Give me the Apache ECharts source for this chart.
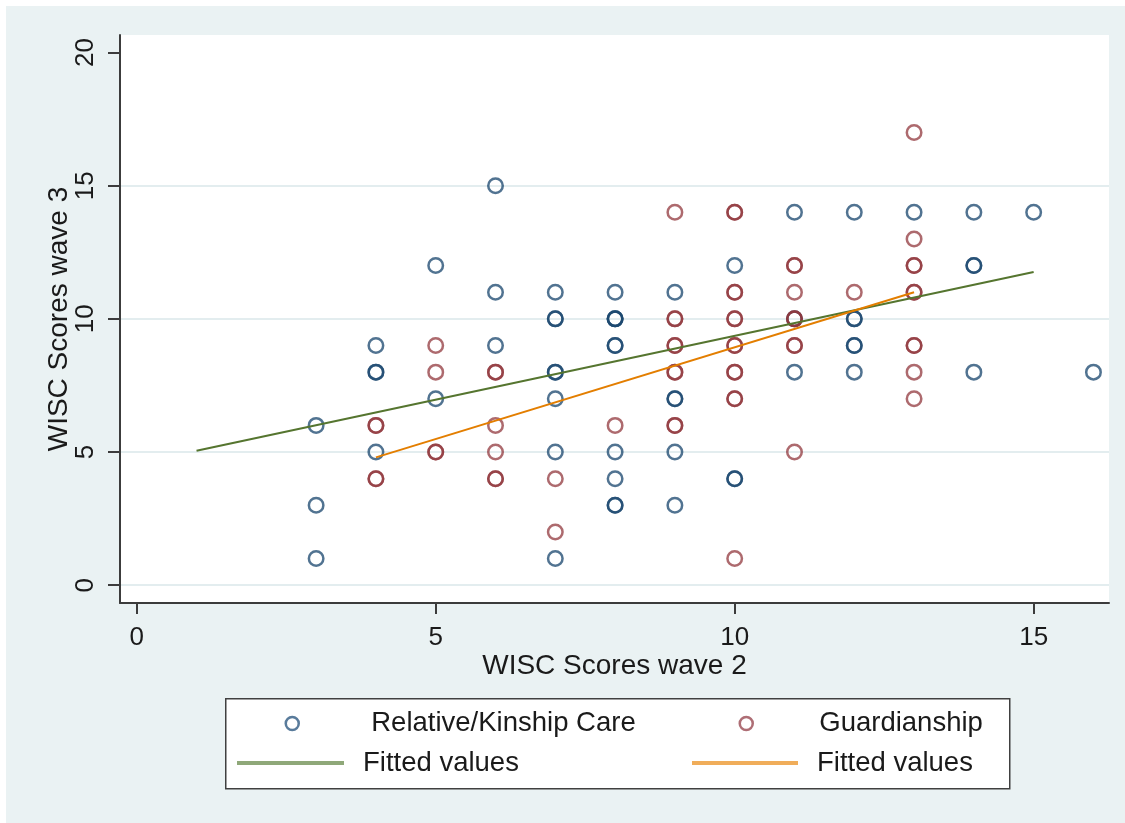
<!DOCTYPE html>
<html>
<head>
<meta charset="utf-8">
<script src="https://cdn.jsdelivr.net/npm/echarts@6/dist/echarts.min.js"></script>
<style>
  html, body { margin: 0; padding: 0; background: #ffffff; }
  #chart { width: 1125px; height: 823px; }
</style>
</head>
<body>
<div id="chart"></div>
<script>
// Axis ticks
const xTicks = [0, 5, 10, 15];
const yTicks = [0, 5, 10, 15, 20];
const yGridLines = [0, 5, 10, 15];

// Relative/Kinship Care: WISC wave 2 (x) vs wave 3 (y); repeated pairs are overlapping observations
const relX = [3, 3, 3,
  4, 4, 4, 4,
  5, 5,
  6, 6, 6,
  7, 7, 7, 7, 7, 7, 7, 7,
  8, 8, 8, 8, 8, 8, 8, 8, 8, 8,
  9, 9, 9, 9, 9,
  10, 10, 10,
  11, 11, 11,
  12, 12, 12, 12, 12, 12,
  13,
  14, 14, 14, 14,
  15,
  16];
const relY = [6, 3, 1,
  9, 8, 8, 5,
  12, 7,
  15, 11, 9,
  11, 10, 10, 8, 8, 7, 5, 1,
  11, 10, 10, 10, 9, 9, 5, 4, 3, 3,
  11, 7, 7, 5, 3,
  12, 4, 4,
  14, 10, 8,
  14, 10, 10, 9, 9, 8,
  14,
  14, 12, 12, 8,
  14,
  8];

// Guardianship
const guaX = [4, 4, 4, 4,
  5, 5, 5, 5,
  6, 6, 6, 6, 6, 6,
  7, 7,
  8,
  9, 9, 9, 9, 9, 9, 9, 9, 9,
  10, 10, 10, 10, 10, 10, 10, 10, 10, 10, 10, 10, 10,
  11, 11, 11, 11, 11, 11, 11, 11,
  12,
  13, 13, 13, 13, 13, 13, 13, 13, 13, 13];
const guaY = [6, 6, 4, 4,
  9, 8, 5, 5,
  8, 8, 6, 5, 4, 4,
  4, 2,
  6,
  14, 10, 10, 9, 9, 8, 8, 6, 6,
  14, 14, 11, 11, 10, 10, 9, 9, 8, 8, 7, 7, 1,
  12, 12, 11, 10, 10, 9, 9, 5,
  11,
  17, 13, 12, 12, 11, 11, 9, 9, 8, 7];

// Linear fits (end points of each fitted line)
const fitRelX = [1, 15];
const fitRelY = [5.05, 11.76];
const fitGuaX = [4, 13];
const fitGuaY = [4.8, 11.0];

const pairs = (xs, ys) => xs.map((x, i) => [x, ys[i]]);

const FONT = 'Liberation Sans, Arial, sans-serif';
const INK = '#1a1a1a';
const AXIS = '#3c3c3c';
const GREEN = '#55752f';
const ORANGE = '#e37e00';

const chart = echarts.init(document.getElementById('chart'), null, { renderer: 'canvas' });

const legendText = (padLeft) => ({
  fontSize: 27.5, color: INK, fontFamily: FONT, padding: [0, 0, 0, padLeft]
});

const option = {
  animation: false,
  backgroundColor: '#eaf2f3',
  textStyle: { fontFamily: FONT },
  graphic: [
    // thin white margin above and left of the tinted frame
    { type: 'rect', left: 0, top: 0, shape: { width: 1125, height: 6 }, style: { fill: '#ffffff' }, silent: true },
    { type: 'rect', left: 0, top: 0, shape: { width: 6, height: 823 }, style: { fill: '#ffffff' }, silent: true },
    // legend frame
    {
      type: 'rect', left: 225, top: 698, z: 1,
      shape: { width: 784, height: 90 },
      style: { fill: '#ffffff', stroke: '#404040', lineWidth: 1.5 },
      silent: true
    }
  ],
  grid: {
    left: 120, top: 35, width: 989, height: 568,
    show: true, backgroundColor: '#ffffff', borderWidth: 0
  },
  xAxis: {
    type: 'value',
    min: -0.28, max: 16.26,
    name: 'WISC Scores wave 2',
    nameLocation: 'middle',
    nameGap: 49,
    nameMoveOverlap: false,
    nameTextStyle: { fontSize: 28, color: INK, fontFamily: FONT },
    axisLine: { show: true, onZero: false, lineStyle: { color: AXIS, width: 2 } },
    axisTick: { show: true, length: 11, customValues: xTicks, lineStyle: { color: AXIS, width: 2 } },
    axisLabel: { customValues: xTicks, fontSize: 26, color: INK, margin: 22, fontFamily: FONT },
    splitLine: { show: false }
  },
  yAxis: [
    {
      type: 'value',
      min: -0.67, max: 20.66,
      name: 'WISC Scores wave 3',
      nameLocation: 'middle',
      nameGap: 47,
      nameMoveOverlap: false,
      nameTextStyle: { fontSize: 28, color: INK, fontFamily: FONT },
      axisLine: { show: true, onZero: false, lineStyle: { color: AXIS, width: 2 } },
      axisTick: { show: true, length: 12, customValues: yTicks, lineStyle: { color: AXIS, width: 2 } },
      axisLabel: { customValues: yTicks, rotate: 90, fontSize: 26, color: INK, margin: 21, fontFamily: FONT },
      splitLine: { show: false }
    },
    {
      // carries the horizontal grid lines only
      type: 'value',
      min: -0.67, max: 20.66,
      position: 'left',
      axisLine: { show: false },
      axisTick: { show: false, customValues: yGridLines },
      axisLabel: { show: false },
      splitLine: { show: true, lineStyle: { color: '#e3edef', width: 2 } }
    }
  ],
  legend: [
    {
      data: [{ name: 'Relative/Kinship Care', icon: 'circle',
               itemStyle: { color: 'rgba(0,0,0,0)', borderColor: '#2f5a82', borderWidth: 2.5 } }],
      left: 284.5, top: 709.5, padding: 0,
      itemWidth: 13, itemHeight: 13,
      selectedMode: false,
      textStyle: legendText(67.5)
    },
    {
      data: [{ name: 'Guardianship', icon: 'circle',
               itemStyle: { color: 'rgba(0,0,0,0)', borderColor: '#9a4a52', borderWidth: 2.5 } }],
      left: 738.5, top: 709.5, padding: 0,
      itemWidth: 13, itemHeight: 13,
      selectedMode: false,
      textStyle: legendText(61.5)
    },
    {
      data: [{ name: 'fitRel', icon: 'rect', itemStyle: { color: '#8fa879' } }],
      formatter: () => 'Fitted values',
      left: 237, top: 749, padding: 0,
      itemWidth: 107, itemHeight: 4,
      selectedMode: false,
      textStyle: legendText(14)
    },
    {
      data: [{ name: 'fitGua', icon: 'rect', itemStyle: { color: '#f0ad5a' } }],
      formatter: () => 'Fitted values',
      left: 692, top: 749, padding: 0,
      itemWidth: 106, itemHeight: 4,
      selectedMode: false,
      textStyle: legendText(14)
    }
  ],
  series: [
    {
      name: 'Relative/Kinship Care',
      type: 'scatter',
      xAxisIndex: 0, yAxisIndex: 0,
      symbol: 'circle',
      symbolSize: 14.5,
      itemStyle: { color: 'rgba(0,0,0,0)', borderColor: 'rgba(26,71,111,0.95)', borderWidth: 2.5 },
      emphasis: { disabled: true },
      data: pairs(relX, relY)
    },
    {
      name: 'Guardianship',
      type: 'scatter',
      xAxisIndex: 0, yAxisIndex: 0,
      symbol: 'circle',
      symbolSize: 14.5,
      itemStyle: { color: 'rgba(0,0,0,0)', borderColor: 'rgba(144,53,59,0.92)', borderWidth: 2.5 },
      emphasis: { disabled: true },
      data: pairs(guaX, guaY)
    },
    {
      name: 'fitRel',
      type: 'line',
      xAxisIndex: 0, yAxisIndex: 0,
      symbol: 'none',
      z: 3,
      itemStyle: { color: GREEN },
      lineStyle: { color: GREEN, width: 2 },
      emphasis: { disabled: true },
      data: pairs(fitRelX, fitRelY)
    },
    {
      name: 'fitGua',
      type: 'line',
      xAxisIndex: 0, yAxisIndex: 0,
      symbol: 'none',
      z: 3,
      itemStyle: { color: ORANGE },
      lineStyle: { color: ORANGE, width: 2 },
      emphasis: { disabled: true },
      data: pairs(fitGuaX, fitGuaY)
    }
  ]
};

chart.setOption(option);
</script>
</body>
</html>
